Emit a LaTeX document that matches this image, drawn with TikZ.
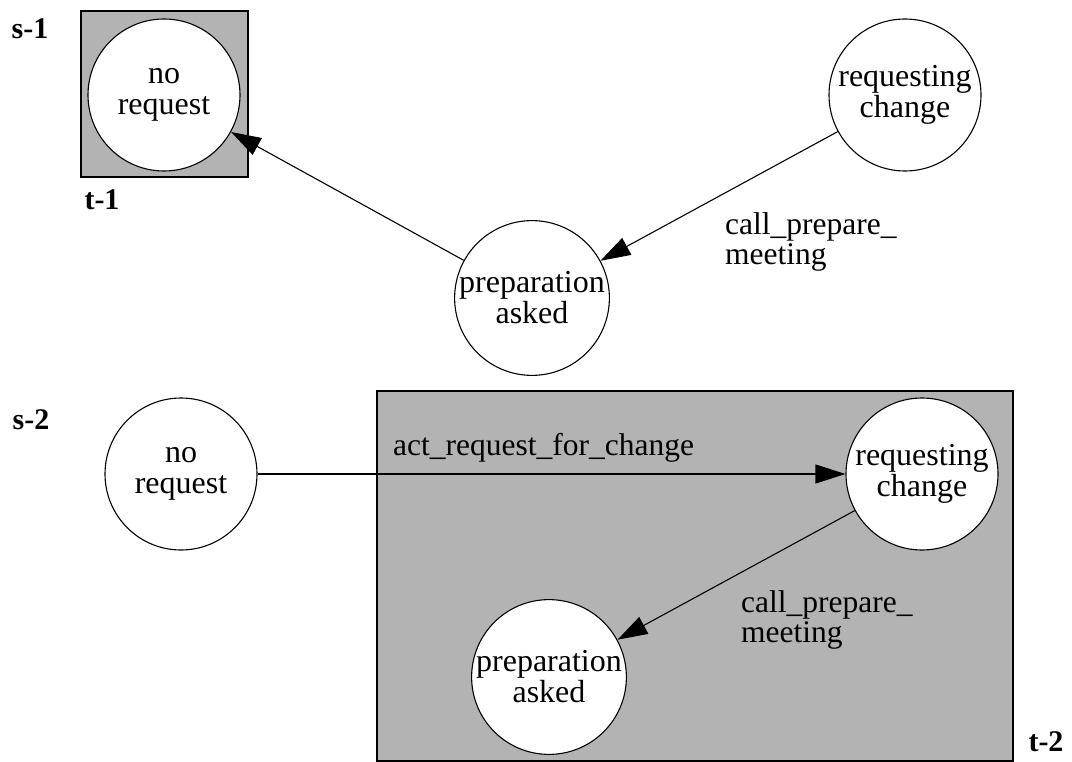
\documentclass[tikz,border=0pt]{standalone}
\usepackage{fontspec}
\setmainfont{Liberation Serif}
\usetikzlibrary{arrows.meta}
\definecolor{boxgray}{RGB}{179,179,179}
\begin{document}
\begin{tikzpicture}[x=1pt,y=-1pt,
  state/.style={circle,draw,fill=white,line width=1.1pt,minimum size=152pt,inner sep=0pt,align=center,font=\fontsize{32}{31}\selectfont},
  lbl/.style={anchor=west,align=left,inner sep=0pt,font=\fontsize{31.5}{30}\selectfont},
  tag/.style={inner sep=0pt,font=\fontsize{30}{30}\selectfont\bfseries},
  region/.style={draw,fill=boxgray,line width=1.1pt},
  edge/.style={line width=1.1pt,-{Triangle[length=30pt,width=19pt]}}]
\useasboundingbox (0,0) rectangle (1072,762);
% regions
\draw[region] (81,11) rectangle (248,177);
\draw[region] (377,391) rectangle (1013,761);
% top
\node[state] (nr1) at (164,95) {no\\request};
\node[state] (rc1) at (905,95) {requesting\\change};
\node[state] (pa1) at (532,298) {preparation\\asked};
\draw[edge] (pa1) -- (nr1);
\draw[edge] (rc1) -- (pa1);
\node[lbl] (l1) at (725,242) {call\_prepare\_\\meeting};
\node[tag] (s1) at (30,29) {s-1};
\node[tag] (t1) at (102,200) {t-1};
% bottom
\node[state] (nr2) at (181,474) {no\\request};
\node[state] (rc2) at (922,474) {requesting\\change};
\node[state] (pa2) at (549,677) {preparation\\asked};
\draw[edge] (nr2) -- (rc2);
\draw[edge] (rc2) -- (pa2);
\node[lbl] (l2) at (393,448) {act\_request\_for\_change};
\node[lbl] (l3) at (741,620) {call\_prepare\_\\meeting};
\node[tag] (s2) at (31,420) {s-2};
\node[tag] (t2) at (1046,742) {t-2};
\end{tikzpicture}
\end{document}
